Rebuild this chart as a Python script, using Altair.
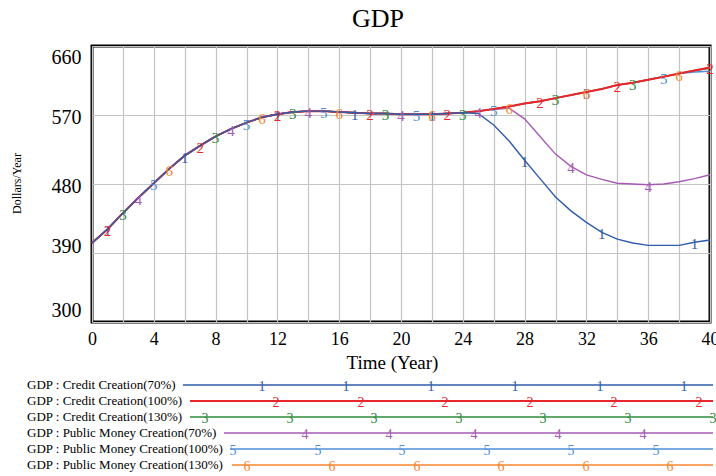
import altair as alt
import pandas as pd

# ---------------- data ----------------
years = list(range(41))

credit_70 = [403, 421, 442, 462, 481, 500, 517, 530, 542, 552, 560, 567, 571, 574, 575, 575,
             574, 573, 572, 572, 571, 571, 571, 572, 573,
             572, 557, 536, 511, 487, 463, 445, 430, 417, 408, 403, 400, 400, 400, 404, 407]
credit_100 = [403, 421, 442, 462, 481, 500, 517, 530, 542, 552, 560, 567, 571, 574, 575, 575,
              574, 573, 572, 572, 571, 571, 571, 572, 573,
              575, 578, 581, 585, 588, 592, 596, 600, 604, 609, 612, 616, 620, 624, 628, 632]
credit_130 = [403, 421, 442, 462, 481, 500, 517, 530, 542, 552, 560, 567, 571, 574, 575, 575,
              574, 573, 572, 572, 571, 571, 571, 572, 573,
              575, 578, 581, 585, 588, 592, 596, 600, 604, 609, 612, 616, 620, 624, 628, 631]
public_70 = [403, 421, 442, 462, 481, 500, 517, 530, 542, 552, 560, 567, 571, 574, 575, 575,
             574, 573, 572, 572, 571, 571, 571, 572, 573,
             575, 577, 579, 565, 542, 519, 503, 492, 486, 481, 480, 479, 480, 483, 487, 492]
public_100 = [403, 421, 442, 462, 481, 500, 517, 530, 542, 552, 560, 567, 571, 574, 575, 575,
              574, 573, 572, 572, 571, 571, 571, 572, 573,
              575, 578, 581, 585, 588, 592, 596, 600, 604, 609, 612, 616, 620, 624, 626, 627]
public_130 = [403, 421, 442, 462, 481, 500, 517, 530, 542, 552, 560, 567, 571, 574, 575, 575,
              574, 573, 572, 572, 571, 571, 571, 572, 573,
              575, 578, 581, 585, 588, 592, 596, 600, 604, 609, 612, 616, 620, 624, 628, 632]

series_names = [
    "GDP : Credit Creation(70%)",
    "GDP : Credit Creation(100%)",
    "GDP : Credit Creation(130%)",
    "GDP : Public Money Creation(70%)",
    "GDP : Public Money Creation(100%)",
    "GDP : Public Money Creation(130%)",
]
series_values = [credit_70, credit_100, credit_130, public_70, public_100, public_130]
series_tags = ["1", "2", "3", "4", "5", "6"]

# years at which each series carries its number label
marker_years = [
    [1, 6, 12, 17, 22, 28, 33, 39],
    [1, 7, 12, 18, 23, 29, 34, 40],
    [2, 8, 13, 19, 24, 30, 35],
    [3, 9, 14, 20, 25, 31, 36],
    [4, 10, 15, 21, 26, 32, 37],
    [5, 11, 16, 22, 27, 32, 38],
]

x_ticks = list(range(0, 41, 2))
y_ticks = [300, 390, 480, 570, 660]

# ---------------- style / layout ----------------
colors = ["#2F5DAA", "#E8262B", "#2E8B3A", "#A65BB3", "#4C8FD6", "#F7862F"]
widths = [1.4, 2.0, 1.4, 1.4, 1.4, 1.4]
draw_order = [2, 5, 4, 3, 1, 0]
FONT = "Liberation Serif"
W, H = 618, 276
LEFT, TOP = 92, 46

# legend layout (pixels relative to plot origin)
leg_rows_y = [339, 355, 371, 387, 403, 419]
leg_line_x0 = [91, 98, 98, 132, 138, 140]
leg_line_x1 = 621
leg_marker_x = [
    [170, 254, 339, 423, 508, 592],
    [184, 269, 353, 438, 522, 607],
    [113, 198, 282, 367, 451, 536, 621],
    [213, 297, 382, 466, 551],
    [141, 226, 310, 395, 479, 564],
    [155, 240, 325, 409, 494, 578],
]

# ---------------- build tables ----------------
rows = []
for name, vals in zip(series_names, series_values):
    for t, v in zip(years, vals):
        rows.append({"series": name, "t": t, "v": v})
long_df = pd.DataFrame(rows)

mrows = []
for k, (name, vals) in enumerate(zip(series_names, series_values)):
    for t in marker_years[k]:
        mrows.append({"series": name, "t": t, "v": vals[t], "tag": series_tags[k], "k": k})
marker_df = pd.DataFrame(mrows)

xscale = alt.Scale(domain=[0, 40], nice=False, zero=False)
yscale = alt.Scale(domain=[300, 660], nice=False, zero=False)

x_axis = alt.Axis(
    values=x_ticks, grid=True, gridColor="#c4c4c4", gridWidth=1.2, ticks=False, domain=False,
    labelExpr="datum.value % 4 == 0 ? datum.label : ''",
    labelFont=FONT, labelFontSize=18, labelColor="black", labelPadding=8,
    title="Time (Year)", titleFont=FONT, titleFontSize=19, titleFontWeight="normal",
    titleColor="black", titleX=300, titleY=40, titleBaseline="middle", titleAnchor="middle",
    labelFlush=False, labelOverlap=False, labelBound=False,
)
y_axis = alt.Axis(
    values=y_ticks, grid=True, gridColor="#c4c4c4", gridWidth=1.2, ticks=False, domain=False,
    labelFont=FONT, labelFontSize=20, labelColor="black", labelPadding=11,
    labelOffset={"condition": [
        {"test": "datum.value == 660", "value": 11},
        {"test": "datum.value == 300", "value": -12},
        {"test": "datum.value == 390", "value": -7},
    ], "value": 2},
    title="Dollars/Year", titleFont=FONT, titleFontSize=12, titleFontWeight="normal",
    titleColor="black", titleX=-76, titleY=137, titleAngle=-90,
    titleBaseline="middle", titleAlign="center", labelOverlap=False, labelFlush=False,
)

layers = []
for i, k in enumerate(draw_order):
    d = long_df[long_df["series"] == series_names[k]]
    layers.append(
        alt.Chart(d).mark_line(color=colors[k], strokeWidth=widths[k]).encode(
            x=alt.X("t:Q", scale=xscale, axis=x_axis if i == 0 else None),
            y=alt.Y("v:Q", scale=yscale, axis=y_axis if i == 0 else None),
        )
    )

for k in range(6):
    d = marker_df[marker_df["k"] == k]
    layers.append(
        alt.Chart(d).mark_text(color=colors[k], font=FONT, fontSize=15, baseline="middle",
                               align="center", dy=2).encode(
            x=alt.X("t:Q", scale=xscale, axis=None),
            y=alt.Y("v:Q", scale=yscale, axis=None),
            text="tag:N",
        )
    )

# legend
leg_text = pd.DataFrame({"name": series_names, "py": leg_rows_y, "px": [-65] * 6})
layers.append(
    alt.Chart(leg_text).mark_text(font=FONT, fontSize=13, align="left", baseline="middle",
                                  color="black").encode(
        x=alt.X("px:Q", scale=None, axis=None),
        y=alt.Y("py:Q", scale=None, axis=None),
        text="name:N",
    )
)
for k in range(6):
    ld = pd.DataFrame({"x0": [leg_line_x0[k]], "x1": [leg_line_x1], "py": [leg_rows_y[k]]})
    layers.append(
        alt.Chart(ld).mark_rule(color=colors[k], strokeWidth=widths[k]).encode(
            x=alt.X("x0:Q", scale=None, axis=None),
            x2="x1:Q",
            y=alt.Y("py:Q", scale=None, axis=None),
        )
    )
    md = pd.DataFrame({"px": leg_marker_x[k], "py": [leg_rows_y[k]] * len(leg_marker_x[k]),
                       "tag": [series_tags[k]] * len(leg_marker_x[k])})
    layers.append(
        alt.Chart(md).mark_text(color=colors[k], font=FONT, fontSize=14, baseline="middle",
                                align="center", dy=2).encode(
            x=alt.X("px:Q", scale=None, axis=None),
            y=alt.Y("py:Q", scale=None, axis=None),
            text="tag:N",
        )
    )

chart = alt.layer(*layers).resolve_scale(
    x="independent", y="independent"
).resolve_axis(
    x="independent", y="independent"
).properties(
    width=W, height=H,
    title=alt.TitleParams("GDP", font=FONT, fontSize=26, fontWeight="normal", color="black",
                          anchor="middle", dx=-23, offset=14),
    autosize=alt.AutoSizeParams(type="none"),
    padding={"left": LEFT, "top": TOP, "right": 716 - LEFT - W, "bottom": 476 - TOP - H},
    background="white",
).configure_view(stroke="black", strokeWidth=3)

chart.save("out.html", embed_options={"renderer": "svg", "actions": False})
